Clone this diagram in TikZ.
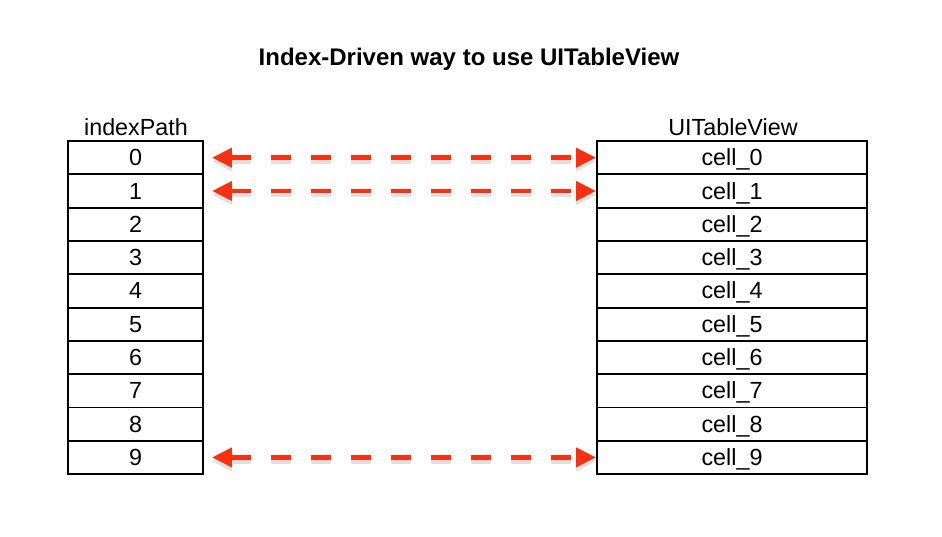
\documentclass[tikz,border=0pt]{standalone}
\usepackage{fontspec}
\setmainfont{Liberation Sans}
\usetikzlibrary{positioning, arrows.meta}
\definecolor{linkred}{RGB}{250,48,18}

\begin{document}
\begin{tikzpicture}[x=0.75pt, y=-0.75pt,
    idxbox/.style={draw, line width=1.4pt, minimum width=101.25pt, minimum height=25pt, inner sep=0pt,
        text height=14pt, text depth=2pt, font=\fontsize{17.5}{20}\selectfont},
    cellbox/.style={idxbox, minimum width=202.5pt},
    head/.style={font=\fontsize{17.5}{20}\selectfont, inner sep=0pt},
    link/.style={draw=linkred, line width=3.6pt, dash pattern=on 15pt off 15pt,
        {Triangle[length=15pt, width=14pt, fill=linkred]}-{Triangle[length=15pt, width=14pt, fill=linkred]},
        shorten <=6pt},
    linkshadow/.style={link, draw=black!12, transform canvas={yshift=-3pt}}]
    \useasboundingbox (0,0) rectangle (942,536);
    \node[font=\fontsize{18}{21}\selectfont\bfseries] (title) at (469, 59) {Index-Driven way to use UITableView};
    % two columns of rows
    \foreach \i in {0,...,9} {
        \node[idxbox] (idx\i) at (135.5, 157.7+33.3*\i) {\i};
        \node[cellbox] (cell\i) at (732, 157.7+33.3*\i) {cell\_\i};
    }
    \node[head] (indexPath) at (136, 127) {indexPath};
    \node[head] (tableview) at (733, 127) {UITableView};
    % mapping arrows
    \foreach \i in {0,1,9} {
        \draw[linkshadow] (idx\i.east) -- (cell\i.west);
        \draw[link] (idx\i.east) -- (cell\i.west);
    }
\end{tikzpicture}
\end{document}
